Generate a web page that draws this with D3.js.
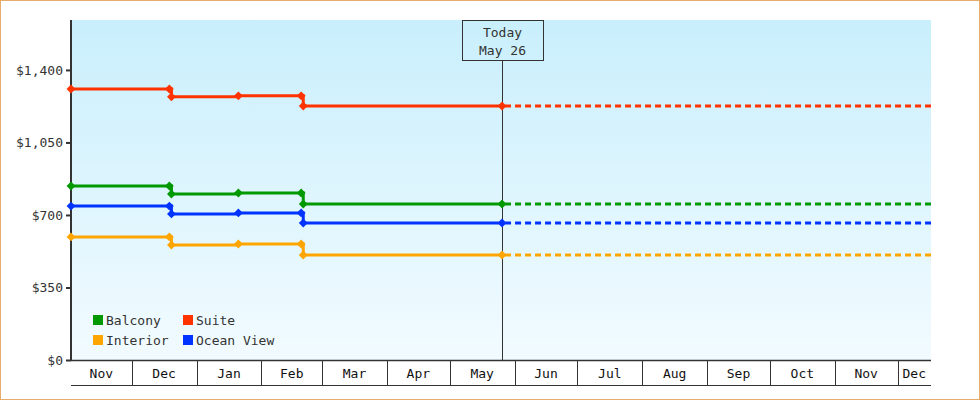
<!DOCTYPE html>
<html><head><meta charset="utf-8">
<script src="https://cdn.jsdelivr.net/npm/d3@7"></script>
<style>body{margin:0;background:#fff}svg{display:block}</style>
</head><body><svg id="chart" width="980" height="400"></svg>
<script>
const seriesNames = ["Balcony", "Suite", "Interior", "Ocean View"];
const seriesColors = ["#009900", "#ff3300", "#ffa500", "#0033ff"];
const pointDates = ["2023-11-02", "2023-12-19", "2023-12-20", "2024-01-21", "2024-02-20", "2024-02-21", "2024-05-26"];
const balcony = [840, 840, 801, 806, 806, 753, 753];
const suite = [1308, 1308, 1270, 1275, 1275, 1226, 1226];
const interior = [594, 594, 555, 560, 560, 507, 507];
const oceanView = [743, 743, 705, 710, 710, 661, 661];
const yTicks = [0, 350, 700, 1050, 1400];
const todayLabel = ["Today", "May 26"];

const W = 980, H = 400;
const m = { top: 20, right: 49, bottom: 40, left: 71 };
const svg = d3.select("#chart");
const font = "'DejaVu Sans Mono',monospace";
const parse = d3.timeParse("%Y-%m-%d");
const dates = pointDates.map(parse);
const today = dates[dates.length - 1];

const x = d3.scaleTime().domain([parse("2023-11-02"), parse("2024-12-17")]).range([m.left, W - m.right]);
const y = d3.scaleLinear().domain([0, 1641]).range([H - m.bottom, m.top]);

// background gradient
const grad = svg.append("defs").append("linearGradient").attr("id", "bg").attr("x1", 0).attr("x2", 0).attr("y1", 0).attr("y2", 1);
grad.append("stop").attr("offset", "0%").attr("stop-color", "#c9effc");
grad.append("stop").attr("offset", "100%").attr("stop-color", "#f2fbff");
svg.append("rect").attr("x", m.left).attr("y", m.top).attr("width", W - m.right - m.left).attr("height", H - m.bottom - m.top).attr("fill", "url(#bg)");
svg.append("rect").attr("x", 0.5).attr("y", 0.5).attr("width", W - 1).attr("height", H - 1).attr("fill", "none").attr("stroke", "#e8ab6a");

// y axis
const yAxis = svg.append("g").attr("transform", `translate(${m.left},0)`)
  .call(d3.axisLeft(y).tickValues(yTicks).tickSize(5).tickFormat(d => "$" + d3.format(",")(d)));
yAxis.select(".domain").attr("stroke", "#333").attr("stroke-width", 2).attr("d", `M0,${m.top}V${H - m.bottom}`);
yAxis.selectAll(".tick line").attr("stroke", "#333").attr("stroke-width", 2);
yAxis.selectAll("text").attr("fill", "#333").style("font-family", font).style("font-size", "13px");

// month band axis
const months = d3.timeMonth.range(d3.timeMonth.floor(x.domain()[0]), x.domain()[1]);
const xb = svg.append("g");
xb.append("line").attr("x1", m.left).attr("x2", W - m.right).attr("y1", H - m.bottom + 0.5).attr("y2", H - m.bottom + 0.5).attr("stroke", "#333").attr("stroke-width", 1.5);
xb.append("line").attr("x1", m.left).attr("x2", W - m.right).attr("y1", 385.5).attr("y2", 385.5).attr("stroke", "#333");
months.forEach(mo => {
  const a = Math.max(x(mo), m.left), b = Math.min(x(d3.timeMonth.offset(mo, 1)), W - m.right);
  if (x(mo) > m.left) xb.append("line").attr("x1", Math.round(a) + 0.5).attr("x2", Math.round(a) + 0.5).attr("y1", H - m.bottom).attr("y2", 385).attr("stroke", "#333");
  xb.append("text").attr("x", (a + b) / 2).attr("y", 378).attr("text-anchor", "middle")
    .attr("fill", "#111").style("font-family", font).style("font-size", "13px").text(d3.timeFormat("%b")(mo));
});

// today marker
const tx = Math.round(x(today)) + 0.5;
svg.append("line").attr("x1", tx).attr("x2", tx).attr("y1", 60).attr("y2", H - m.bottom).attr("stroke", "#333");
svg.append("rect").attr("x", tx - 40).attr("y", 20.5).attr("width", 81).attr("height", 40).attr("fill", "none").attr("stroke", "#333");
todayLabel.forEach((t, i) => svg.append("text").attr("x", tx).attr("y", 37 + i * 18).attr("text-anchor", "middle")
  .attr("fill", "#333").style("font-family", font).style("font-size", "13px").text(t));

// series
const allSeries = [balcony, suite, interior, oceanView];
const line = d3.line().x(d => x(d.date)).y(d => y(d.v)).curve(d3.curveStepAfter);
allSeries.forEach((vals, i) => {
  const pts = vals.map((v, j) => ({ date: dates[j], v }));
  const c = seriesColors[i];
  svg.append("path").attr("d", line(pts)).attr("fill", "none").attr("stroke", c).attr("stroke-width", 3);
  const last = pts[pts.length - 1];
  svg.append("line").attr("x1", x(last.date) + 3).attr("x2", W - m.right).attr("y1", y(last.v)).attr("y2", y(last.v))
    .attr("stroke", c).attr("stroke-width", 3).attr("stroke-dasharray", "6,4");
  svg.append("g").selectAll("path").data(pts).join("path")
    .attr("transform", d => `translate(${x(d.date)},${y(d.v)})`)
    .attr("d", d3.symbol(d3.symbolDiamond2, 50)).attr("fill", c);
});

// legend
const lg = svg.append("g");
[[0, 0], [1, 0], [0, 1], [1, 1]].forEach(([col, row], i) => {
  const lx = 93 + col * 90, ly = 315 + row * 20;
  lg.append("rect").attr("x", lx).attr("y", ly).attr("width", 10).attr("height", 10).attr("fill", seriesColors[i]);
  lg.append("text").attr("x", lx + 13).attr("y", ly + 10).attr("fill", "#333").style("font-family", font).style("font-size", "13px").text(seriesNames[i]);
});
</script></body></html>
